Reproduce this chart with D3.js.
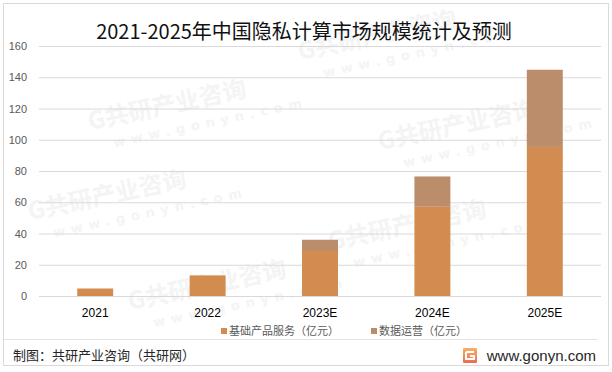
<!DOCTYPE html>
<html>
<head>
<meta charset="utf-8">
<script src="https://cdn.jsdelivr.net/npm/d3@7"></script>
<style>
  body { margin: 0; background: #fff; }
  svg { display: block; font-family: "Noto Sans CJK SC", "Noto Sans", sans-serif; }
</style>
</head>
<body>
<svg width="612" height="372"></svg>
<script>
// data
var years = ["2021", "2022", "2023E", "2024E", "2025E"];
var baseService = [4.8, 13.2, 28.8, 57.1, 95.4];   // 基础产品服务（亿元）
var dataOps = [0, 0, 7.2, 19.4, 49.4];            // 数据运营（亿元）
var seriesNames = ["基础产品服务（亿元）", "数据运营（亿元）"];
var yTicks = [0, 20, 40, 60, 80, 100, 120, 140, 160];

var colors = ["#d38c4f", "#bb8d6b"];

var svg = d3.select("svg"),
    margin = {top: 46, right: 11, bottom: 76, left: 39},
    width = +svg.attr("width") - margin.left - margin.right,
    height = +svg.attr("height") - margin.top - margin.bottom;

// outer frame
svg.append("rect")
    .attr("x", 3.5).attr("y", 3.5)
    .attr("width", 605).attr("height", 362)
    .attr("fill", "#fff")
    .attr("stroke", "#d9d9d9");

// faint watermarks
var wm = svg.append("g").attr("fill", "#f4f4f4").attr("font-weight", "bold");
[[90, 130], [300, 60], [380, 150], [330, 250], [130, 310], [30, 220]].forEach(function(p) {
  var t = wm.append("g").attr("transform", "translate(" + p[0] + "," + p[1] + ") rotate(-12)");
  t.append("text").attr("font-size", 24).text("G共研产业咨询");
  t.append("text").attr("y", 22).attr("x", 20).attr("font-size", 13)
    .attr("letter-spacing", 6).attr("font-family", "DejaVu Sans").text("www.gonyn.com");
});

var table = years.map(function(y, i) { return {year: y, base: baseService[i], ops: dataOps[i]}; });
var stack = d3.stack().keys(["base", "ops"])(table);

var x = d3.scaleBand().domain(years).range([0, width]).paddingInner(0.68).paddingOuter(0.34),
    y = d3.scaleLinear().domain([0, 160]).range([height, 0]);

var g = svg.append("g")
    .attr("transform", "translate(" + margin.left + "," + margin.top + ")");

// y grid + labels
var yAxis = g.append("g")
    .call(d3.axisLeft(y).tickValues(yTicks).tickSize(-width).tickPadding(12));
yAxis.select(".domain").remove();
yAxis.selectAll(".tick line").attr("stroke", "#d9d9d9");
yAxis.selectAll(".tick text")
    .attr("fill", "#595959")
    .attr("font-size", 11)
    .attr("font-family", "Liberation Sans, Arial, sans-serif");

// bars
g.selectAll(".series")
  .data(stack)
  .enter().append("g")
    .attr("fill", function(d, i) { return colors[i]; })
  .selectAll("rect")
  .data(function(d) { return d; })
  .enter().append("rect")
    .attr("x", function(d) { return x(d.data.year); })
    .attr("y", function(d) { return y(d[1]); })
    .attr("width", x.bandwidth())
    .attr("height", function(d) { return y(d[0]) - y(d[1]); });

// x axis labels
var xAxis = g.append("g")
    .attr("transform", "translate(0," + height + ")")
    .call(d3.axisBottom(x).tickSize(0).tickPadding(12));
xAxis.select(".domain").remove();
xAxis.selectAll(".tick text")
    .attr("fill", "#000")
    .attr("font-size", 12)
    .attr("font-family", "Liberation Sans, Arial, sans-serif");

// title
svg.append("text")
    .attr("x", 304).attr("y", 39)
    .attr("text-anchor", "middle")
    .attr("font-size", 20)
    .attr("fill", "#111")
    .text("2021-2025年中国隐私计算市场规模统计及预测");

// legend
var legendX = [221, 371];
var legend = svg.selectAll(".legend")
  .data(seriesNames)
  .enter().append("g")
    .attr("transform", function(d, i) { return "translate(" + legendX[i] + ",331)"; });
legend.append("rect")
    .attr("y", -3).attr("width", 6).attr("height", 6)
    .attr("fill", function(d, i) { return colors[i]; });
legend.append("text")
    .attr("x", 8).attr("dy", "0.35em")
    .attr("font-size", 11)
    .attr("fill", "#595959")
    .text(function(d) { return d; });

// footer
svg.append("line")
    .attr("x1", 4).attr("x2", 598)
    .attr("y1", 339.5).attr("y2", 339.5)
    .attr("stroke", "#e3e3e3");
svg.append("text")
    .attr("x", 13).attr("y", 360)
    .attr("font-size", 13)
    .attr("fill", "#262626")
    .text("制图：共研产业咨询（共研网）");

var grad = svg.append("defs").append("linearGradient")
    .attr("id", "logo").attr("x1", 0).attr("y1", 0).attr("x2", 0).attr("y2", 1);
grad.append("stop").attr("offset", 0).attr("stop-color", "#f7b267");
grad.append("stop").attr("offset", 1).attr("stop-color", "#ee6b4d");
var logo = svg.append("g").attr("transform", "translate(463,348)");
logo.append("rect").attr("width", 14).attr("height", 15).attr("rx", 1).attr("fill", "url(#logo)");
logo.append("path")
    .attr("d", "M3,4 H11 M3,4 V11 H11 V8 H7")
    .attr("fill", "none").attr("stroke", "#fff").attr("stroke-width", 2);

svg.append("text")
    .attr("x", 596).attr("y", 361)
    .attr("text-anchor", "end")
    .attr("font-size", 15)
    .attr("fill", "#262626")
    .attr("font-family", "Liberation Sans, Arial, sans-serif")
    .text("www.gonyn.com");
</script>
</body>
</html>
